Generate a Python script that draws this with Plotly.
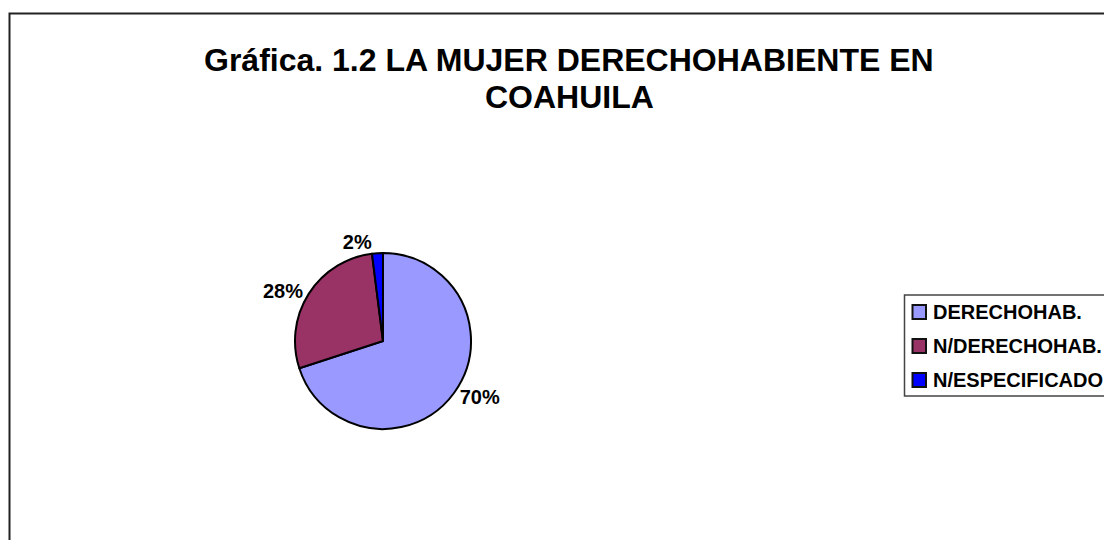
import plotly.graph_objects as go

W, H = 1104, 540

labels = ["DERECHOHAB.", "N/DERECHOHAB.", "N/ESPECIFICADO"]
values = [70, 28, 2]
colors = ["#9999FF", "#993366", "#0000FF"]
title_lines = ["Gráfica. 1.2 LA MUJER DERECHOHABIENTE EN", "COAHUILA"]

FONT = "Arial, 'Liberation Sans', sans-serif"

def px(x):
    return x / W

def py(y):
    return 1 - y / H

cx, cy, r = 383, 341, 88

fig = go.Figure()
fig.add_trace(go.Pie(
    labels=labels,
    values=values,
    sort=False,
    direction="clockwise",
    rotation=0,
    marker=dict(colors=colors, line=dict(color="black", width=2)),
    textposition="outside",
    texttemplate="<b>%{percent:.0%}</b>",
    textfont=dict(family=FONT, size=20, color="black"),
    showlegend=False,
    domain=dict(x=[px(cx - r), px(cx + r)], y=[py(cy + r), py(cy - r)]),
    hoverinfo="label+percent",
))

shapes = [
    # outer chart border
    dict(type="rect", xref="paper", yref="paper",
         x0=px(9.5), x1=px(W + 30), y0=py(H + 30), y1=py(13.5),
         line=dict(color="#222222", width=2), fillcolor="rgba(0,0,0,0)", layer="above"),
    # legend box
    dict(type="rect", xref="paper", yref="paper",
         x0=px(904.5), x1=px(W + 30), y0=py(396), y1=py(295),
         line=dict(color="#444444", width=1.5), fillcolor="white", layer="below"),
]
annotations = []
row_y = [312, 346, 380]
for lab, col, yy in zip(labels, colors, row_y):
    shapes.append(dict(type="rect", xref="paper", yref="paper",
                       x0=px(912.5), x1=px(926), y0=py(yy + 7), y1=py(yy - 7),
                       line=dict(color="#111111", width=2), fillcolor=col))
    annotations.append(dict(text=f"<b>{lab}</b>", xref="paper", yref="paper",
                            x=px(931), y=py(yy), xanchor="left", yanchor="middle",
                            showarrow=False, font=dict(family=FONT, size=20, color="black")))

# title, two lines
for txt, yy in zip(title_lines, [60, 97]):
    annotations.append(dict(text=f"<b>{txt}</b>", xref="paper", yref="paper",
                            x=px(569), y=py(yy), xanchor="center", yanchor="middle",
                            showarrow=False, font=dict(family=FONT, size=32, color="black")))

fig.update_layout(
    width=W, height=H,
    margin=dict(l=0, r=0, t=0, b=0),
    paper_bgcolor="white",
    plot_bgcolor="white",
    shapes=shapes,
    annotations=annotations,
)

fig.write_html(
    "out.html",
    config={"displayModeBar": False},
    post_script="document.body.style.margin='0';document.body.style.overflow='hidden';",
)
